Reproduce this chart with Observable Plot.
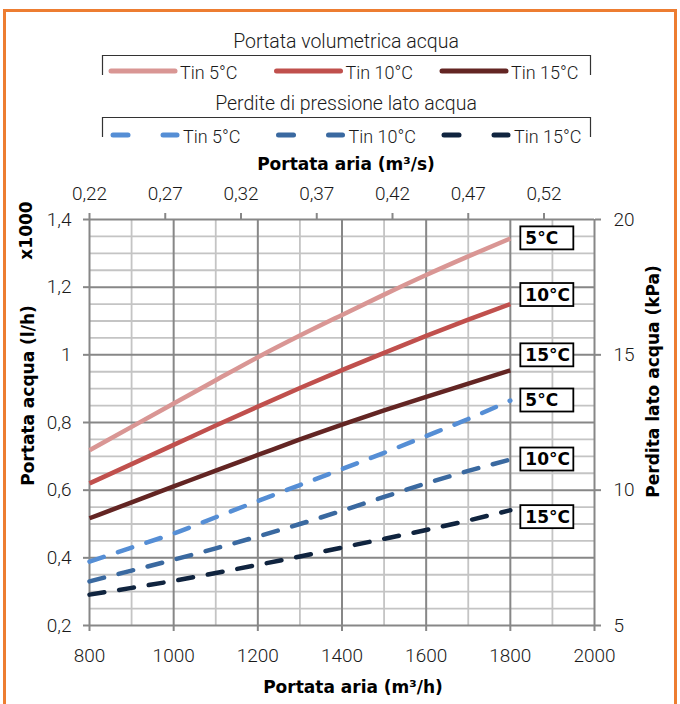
<!DOCTYPE html>
<html>
<head>
<meta charset="utf-8">
<script src="https://cdn.jsdelivr.net/npm/d3@7"></script>
<script src="https://cdn.jsdelivr.net/npm/@observablehq/plot@0.6"></script>
<style>
  html, body { margin: 0; padding: 0; background: #fff; }
  #wrap { position: relative; width: 680px; height: 704px; overflow: hidden; background: #fff; }
  #frame { position: absolute; left: 3px; top: 9px; width: 668px; height: 720px; border: 3px solid #ED7D31; border-bottom: none; }
  #legend { position: absolute; left: 0; top: 0; }
  #chart { position: absolute; left: 0; top: 148px; }
</style>
</head>
<body>
<div id="wrap">
  <div id="frame"></div>
  <div id="legend"></div>
  <div id="chart"></div>
</div>
<script>
// ---------- data ----------
const airflow = [800, 900, 1000, 1100, 1200, 1300, 1400, 1500, 1600, 1700, 1800]; // m³/h
// water flow, l/h x1000
const flow5  = [0.718, 0.787, 0.856, 0.925, 0.993, 1.057, 1.118, 1.178, 1.236, 1.291, 1.344];
const flow10 = [0.620, 0.677, 0.734, 0.791, 0.847, 0.902, 0.955, 1.006, 1.056, 1.104, 1.150];
const flow15 = [0.517, 0.564, 0.611, 0.658, 0.704, 0.750, 0.794, 0.836, 0.876, 0.915, 0.954];
// water side pressure drop, kPa
const drop5  = [7.36, 7.88, 8.40, 9.00, 9.60, 10.19, 10.78, 11.38, 12.00, 12.63, 13.31];
const drop10 = [6.63, 7.03, 7.43, 7.85, 8.29, 8.75, 9.24, 9.75, 10.25, 10.71, 11.13];
const drop15 = [6.14, 6.39, 6.65, 6.94, 7.24, 7.55, 7.88, 8.20, 8.53, 8.88, 9.26];

const seriesNames = ["Tin 5°C", "Tin 10°C", "Tin 15°C"];
const endLabels = ["5°C", "10°C", "15°C"];
const legendTitles = ["Portata volumetrica acqua", "Perdite di pressione lato acqua"];

const xTicks = [800, 1000, 1200, 1400, 1600, 1800, 2000];
const xMinor = [900, 1100, 1300, 1500, 1700, 1900];
const yTicks = [0.2, 0.4, 0.6, 0.8, 1.0, 1.2, 1.4];
const yMinor = [0.25, 0.3, 0.35, 0.45, 0.5, 0.55, 0.65, 0.7, 0.75, 0.85, 0.9, 0.95, 1.05, 1.1, 1.15, 1.25, 1.3, 1.35];
const topTicks = [800, 980, 1160, 1340, 1520, 1700, 1880]; // m³/h positions of 0,22 … 0,52 m³/s
const rightTicks = [5, 10, 15, 20]; // kPa

const titleBottom = ["Portata aria (m³/h)"];
const titleTop = ["Portata aria (m³/s)"];
const titleLeft = ["Portata acqua (l/h)"];
const titleLeftUnit = ["x1000"];
const titleRight = ["Perdita lato acqua (kPa)"];

// ---------- styles ----------
const flowColors = ["#D99694", "#C0504D", "#632523"];
const dropColors = ["#558ED5", "#3A69A0", "#10243F"];
const boldFont = "'DejaVu Sans', Verdana, sans-serif";
const regFont = "Roboto, 'Liberation Sans', Arial, sans-serif";

// kPa <-> left scale (5..20 kPa spans 0.2..1.4)
const kpaToLeft = k => 0.2 + (k - 5) / 12.5;
const leftToKpa = v => 5 + (v - 0.2) * 12.5;

const comma = s => String(s).replace(".", ",");

function rows(values, conv = v => v) {
  return airflow.map((q, i) => ({q, v: conv(values[i])}));
}

const flowSeries = [flow5, flow10, flow15];
const dropSeries = [drop5, drop10, drop15];
const flowLabelDy = [0, -9, -15];
const dropLabelDy = [0, 0, 7];

const marks = [
  Plot.ruleX(xMinor, {stroke: "#C4C4C4", strokeWidth: 1.8}),
  Plot.ruleY(yMinor, {stroke: "#C4C4C4", strokeWidth: 1.8}),
  Plot.ruleX(xTicks, {stroke: "#878787", strokeWidth: 2}),
  Plot.ruleY(yTicks, {stroke: "#878787", strokeWidth: 2}),
  Plot.axisX({anchor: "bottom", ticks: xTicks, tickSize: 6, tickPadding: 17, stroke: "#878787", strokeWidth: 2, fill: "#1a1a1a", label: null, tickFormat: d => String(d)}),
  Plot.axisX({anchor: "top", ticks: topTicks, tickSize: 7, tickPadding: 13, stroke: "#878787", strokeWidth: 2, fill: "#1a1a1a", label: null, tickFormat: d => comma((d / 3600).toFixed(2))}),
  Plot.axisY({anchor: "left", ticks: yTicks, tickSize: 6, tickPadding: 12, stroke: "#878787", strokeWidth: 2, fill: "#1a1a1a", label: null, tickFormat: d => comma(+d.toFixed(1))}),
  Plot.axisY({anchor: "right", ticks: rightTicks.map(kpaToLeft), tickSize: 6, tickPadding: 13, stroke: "#878787", strokeWidth: 2, fill: "#1a1a1a", label: null, tickFormat: d => String(Math.round(leftToKpa(d)))}),
];

dropSeries.forEach((s, i) => {
  marks.push(Plot.line(rows(s, kpaToLeft), {x: "q", y: "v", curve: "monotone-x", stroke: dropColors[i], strokeWidth: 4.5, strokeDasharray: "15,15", strokeLinecap: "round"}));
});
flowSeries.forEach((s, i) => {
  marks.push(Plot.line(rows(s), {x: "q", y: "v", curve: "monotone-x", stroke: flowColors[i], strokeWidth: 4.5, strokeLinecap: "butt"}));
});
const lblOpts = {x: "q", y: "v", textAnchor: "start", dx: 15, fontFamily: boldFont, fontWeight: "bold", fontSize: 17, fill: "#000", className: "endlbl"};
flowSeries.forEach((s, i) => {
  const last = rows(s)[airflow.length - 1];
  marks.push(Plot.text([last], {...lblOpts, text: () => endLabels[i], dy: flowLabelDy[i]}));
});
dropSeries.forEach((s, i) => {
  const last = rows(s, kpaToLeft)[airflow.length - 1];
  marks.push(Plot.text([last], {...lblOpts, text: () => endLabels[i], dy: dropLabelDy[i]}));
});

const titleOpts = {text: d => d, fontFamily: boldFont, fontWeight: "bold", fontSize: 17, fill: "#000", textAnchor: "middle"};
marks.push(
  Plot.text(titleBottom, {...titleOpts, frameAnchor: "bottom", dx: 11, dy: 67}),
  Plot.text(titleTop, {...titleOpts, frameAnchor: "top", dx: 4, dy: -62}),
  Plot.text(titleLeftUnit, {...titleOpts, frameAnchor: "top-left", rotate: -90, dx: -70, dy: 11}),
  Plot.text(titleLeft, {...titleOpts, frameAnchor: "left", rotate: -90, dx: -61, dy: -27}),
  Plot.text(titleRight, {...titleOpts, frameAnchor: "right", rotate: -90, dx: 59, dy: -41})
);

const chart = Plot.plot({
  width: 680,
  height: 556,
  marginTop: 71,
  marginBottom: 79,
  marginLeft: 89,
  marginRight: 86,
  x: {type: "linear", domain: [800, 2000], axis: null},
  y: {type: "linear", domain: [0.2, 1.4], axis: null},
  style: {fontFamily: regFont, fontSize: "19px", fontWeight: 300, color: "#1a1a1a", background: "transparent", overflow: "visible"},
  marks
});
document.getElementById("chart").appendChild(chart);

// boxes behind the end labels
chart.querySelectorAll("g.endlbl text").forEach(t => {
  const bb = t.getBBox();
  const r = document.createElementNS("http://www.w3.org/2000/svg", "rect");
  r.setAttribute("x", bb.x - 5);
  r.setAttribute("y", bb.y + bb.height / 2 - 11.5);
  r.setAttribute("width", 53);
  r.setAttribute("height", 23);
  r.setAttribute("fill", "#fff");
  r.setAttribute("stroke", "#000");
  r.setAttribute("stroke-width", 1.8);
  if (t.getAttribute("transform")) r.setAttribute("transform", t.getAttribute("transform"));
  t.parentNode.insertBefore(r, t);
});

// ---------- legend ----------
const leg = d3.create("svg").attr("width", 680).attr("height", 150)
  .style("font-family", regFont).style("font-weight", 300);
const itemX = [109, 274.5, 440];
// row 1
leg.append("text").attr("x", 346).attr("y", 48).attr("text-anchor", "middle").attr("font-size", 19.5).attr("fill", "#1a1a1a").text(legendTitles[0]);
leg.append("path").attr("d", "M102.5,75V55.5H590.5V75").attr("fill", "none").attr("stroke", "#333").attr("stroke-width", 1.2);
seriesNames.forEach((n, i) => {
  leg.append("line").attr("x1", itemX[i] + 2).attr("x2", itemX[i] + 66).attr("y1", 71).attr("y2", 71)
    .attr("stroke", flowColors[i]).attr("stroke-width", 5).attr("stroke-linecap", "round");
  leg.append("text").attr("x", itemX[i] + 71).attr("y", 78.5).attr("font-size", 18).attr("fill", "#1a1a1a").text(n);
});
// row 2
leg.append("text").attr("x", 346).attr("y", 110).attr("text-anchor", "middle").attr("font-size", 19.5).attr("fill", "#1a1a1a").text(legendTitles[1]);
leg.append("path").attr("d", "M102.5,137V117.5H590.5V137").attr("fill", "none").attr("stroke", "#333").attr("stroke-width", 1.2);
seriesNames.forEach((n, i) => {
  [[4, 19], [54, 68]].forEach(([a, b]) => {
    leg.append("line").attr("x1", itemX[i] + a).attr("x2", itemX[i] + b).attr("y1", 135).attr("y2", 135)
      .attr("stroke", dropColors[i]).attr("stroke-width", 5).attr("stroke-linecap", "round");
  });
  leg.append("text").attr("x", itemX[i] + 74).attr("y", 142.5).attr("font-size", 18).attr("fill", "#1a1a1a").text(n);
});
document.getElementById("legend").appendChild(leg.node());
</script>
</body>
</html>
